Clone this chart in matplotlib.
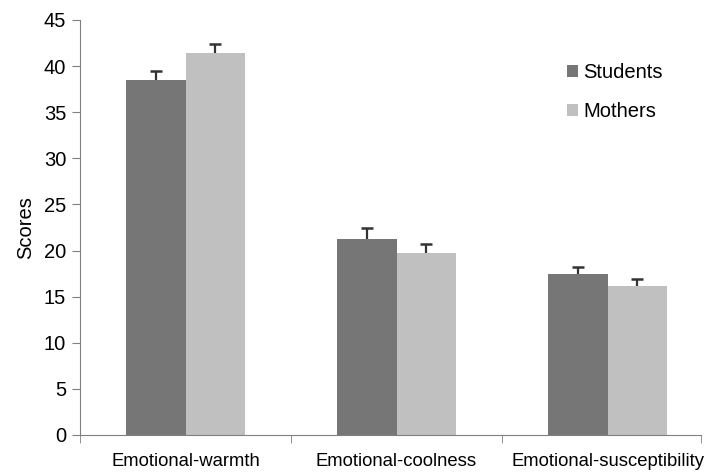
import numpy as np
import matplotlib
matplotlib.use("Agg")
import matplotlib.pyplot as plt

plt.rcParams['font.family'] = ['Liberation Sans', 'DejaVu Sans']

categories = ["Emotional-warmth", "Emotional-coolness", "Emotional-susceptibility"]
students = [38.5, 21.3, 17.5]
students_err = [1.0, 1.1, 0.75]
mothers = [41.4, 19.7, 16.2]
mothers_err = [1.0, 1.0, 0.7]

dark = "#767676"
light = "#c0c0c0"
axis_col = "#808080"
fs = 14.5

fig = plt.figure(figsize=(7.06, 4.72), dpi=100)
ax = fig.add_axes([80 / 706, 37 / 472, 621 / 706, 415 / 472])

x = np.arange(len(categories))
w = 0.284
ax.bar(x - w / 2, students, w, color=dark, label="Students", zorder=2)
ax.bar(x + w / 2, mothers, w, color=light, label="Mothers", zorder=2)
for xs, vals, errs in [(x - w / 2, students, students_err), (x + w / 2, mothers, mothers_err)]:
    eb = ax.errorbar(xs, vals, yerr=[np.zeros(3), errs], fmt="none",
                     ecolor="#333333", elinewidth=1.6, capsize=4, capthick=1.8, zorder=3)
    eb[1][0].set_visible(False)  # drop the lower cap, keep the T on top

ax.set_xlim(-0.5, 2.443)
ax.set_ylim(0, 45)
ax.set_yticks(range(0, 46, 5))
ax.set_xticks(x)
ax.set_xticklabels(categories)
ax.set_xticks([-0.5, 0.5, 1.5, 2.443], minor=True)
ax.tick_params(axis="x", which="major", length=0, labelsize=13.3, pad=13)
ax.tick_params(axis="x", which="minor", length=6, color=axis_col, direction="out")
ax.tick_params(axis="y", length=6, color=axis_col, labelsize=fs, direction="out", pad=4)

for s in ["top", "right"]:
    ax.spines[s].set_visible(False)
for s in ["left", "bottom"]:
    ax.spines[s].set_color(axis_col)

ax.set_ylabel("Scores", fontsize=fs, labelpad=6)

ax.legend(loc="upper left", bbox_to_anchor=(567 / 706, 1 - 63 / 472),
          bbox_transform=fig.transFigure, frameon=False, fontsize=fs,
          handlelength=0.55, handleheight=0.55, handletextpad=0.25, labelspacing=1.0,
          borderaxespad=0, borderpad=0)

fig.savefig("out.png", dpi=100)
